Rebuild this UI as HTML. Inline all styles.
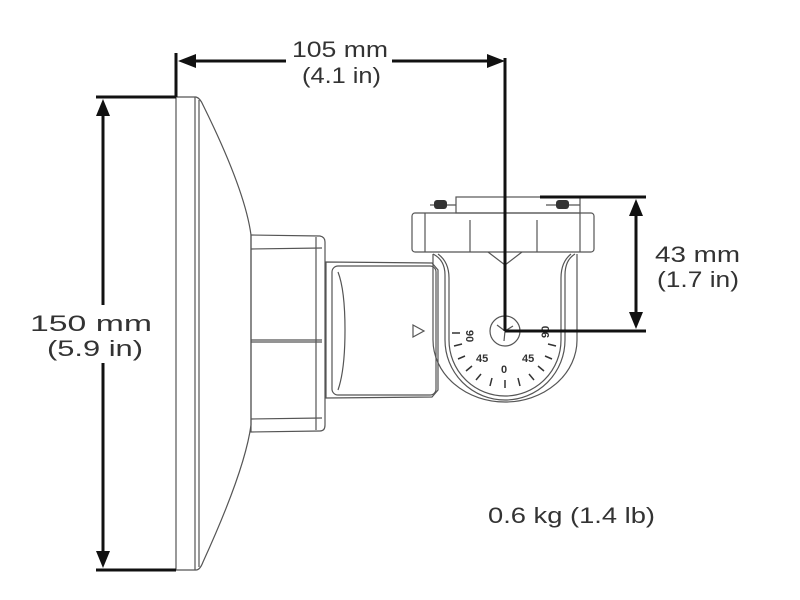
<!DOCTYPE html><html><head><style>body{margin:0;background:#fff}svg{display:block}text{font-family:"Liberation Sans",sans-serif;font-size:22px;fill:#333}</style></head><body>
<svg width="800" height="600" viewBox="0 0 800 600">
<g fill="none" stroke="#555" stroke-width="1.2">
<path d="M176 97 L196 97 Q200 98 203 105 Q245 190 251 235 L251 425 Q245 470 203 562 Q200 570 196 570 L176 570 Z"/>
<line x1="195" y1="97" x2="195" y2="570"/><line x1="199" y1="100" x2="199" y2="567"/>
<path d="M251 235 L320 236 Q325 237 325 242 L325 425 Q325 431 320 431 L251 432 Z"/>
<line x1="251" y1="249" x2="322" y2="248"/><line x1="251" y1="340" x2="322" y2="340"/><line x1="251" y1="342" x2="322" y2="342"/><line x1="251" y1="419" x2="322" y2="418"/>
<line x1="316" y1="237" x2="316" y2="430"/>
<path d="M326 262 L432 263 L438 270 L438 390 L432 397 L326 398 Z"/>
<rect x="332" y="266" width="104" height="129" rx="6"/>
<path d="M338 272 Q345 290 345 330 Q345 370 338 390"/>
<path d="M413 325 L424 331 L413 337 Z"/>
<rect x="412" y="213" width="182" height="39" rx="3"/>
<line x1="425" y1="213" x2="425" y2="252"/><line x1="580" y1="213" x2="580" y2="252"/>
<line x1="470" y1="220" x2="470" y2="252"/><line x1="537" y1="220" x2="537" y2="252"/>
<rect x="456" y="197" width="124" height="16"/><line x1="430" y1="205" x2="456" y2="205"/><line x1="546" y1="205" x2="580" y2="205"/>
<path d="M433 254 Q445 260 445 275 L445 340 A60 60 0 0 0 565 340 L565 275 Q565 260 575 254"/>
<path d="M438 254 Q449 262 449 278 L449 340 A56 56 0 0 0 561 340 L561 278 Q561 262 571 254"/>
<path d="M433 254 L433 340 A72 62 0 0 0 577 340 L577 254"/>
<path d="M488 252 L505 265 L522 252"/>
<circle cx="505" cy="331" r="15"/>
<path d="M497 325 L505 331 L513 326 M505 331 L504 341"/>
<g stroke="#333" stroke-width="1.5">
<line x1="452" y1="333" x2="460" y2="333"/><line x1="454" y1="346" x2="462" y2="344"/><line x1="458" y1="359" x2="465" y2="356"/><line x1="466" y1="371" x2="472" y2="366"/><line x1="476" y1="380" x2="481" y2="374"/><line x1="490" y1="386" x2="492" y2="378"/><line x1="505" y1="388" x2="505" y2="380"/><line x1="520" y1="386" x2="518" y2="378"/><line x1="534" y1="380" x2="529" y2="374"/><line x1="544" y1="371" x2="538" y2="366"/><line x1="552" y1="359" x2="545" y2="356"/><line x1="556" y1="346" x2="548" y2="344"/>
</g>
</g>
<rect x="434" y="200" width="13" height="9" rx="3" fill="#333"/><rect x="556" y="200" width="13" height="9" rx="3" fill="#333"/>
<g><text x="466" y="338" transform="rotate(90 470 334)" style="font-size:11px;font-weight:bold">90</text><text x="541" y="338" transform="rotate(-90 545 334)" style="font-size:11px;font-weight:bold">90</text><text x="476" y="362" style="font-size:11px;font-weight:bold">45</text><text x="522" y="362" style="font-size:11px;font-weight:bold">45</text><text x="501" y="373" style="font-size:11px;font-weight:bold">0</text></g>
<g stroke="#111" stroke-width="3" fill="none">
<line x1="176" y1="53" x2="176" y2="97"/><line x1="96" y1="97" x2="176" y2="97"/>
<line x1="96" y1="570" x2="176" y2="570"/>
<line x1="103" y1="110" x2="103" y2="557"/>
<line x1="190" y1="61" x2="286" y2="61"/><line x1="392" y1="61" x2="495" y2="61"/>
<line x1="505" y1="58" x2="505" y2="331"/><line x1="505" y1="331" x2="646" y2="331"/>
<line x1="540" y1="197" x2="646" y2="197"/><line x1="636" y1="210" x2="636" y2="318"/>
</g>
<g fill="#111">
<path d="M178 61 L196 54 L196 68 Z"/><path d="M505 61 L487 54 L487 68 Z"/>
<path d="M103 99 L96 116 L110 116 Z"/><path d="M103 568 L96 551 L110 551 Z"/>
<path d="M636 199 L629 216 L643 216 Z"/><path d="M636 329 L629 312 L643 312 Z"/>
</g>
<rect x="26" y="305" width="130" height="58" fill="#fff"/>
<text x="292" y="57" textLength="96" lengthAdjust="spacingAndGlyphs">105 mm</text><text x="302" y="83" textLength="79" lengthAdjust="spacingAndGlyphs">(4.1 in)</text>
<text x="30" y="331" textLength="122" lengthAdjust="spacingAndGlyphs">150 mm</text><text x="47" y="356" textLength="96" lengthAdjust="spacingAndGlyphs">(5.9 in)</text>
<text x="655" y="262" textLength="85" lengthAdjust="spacingAndGlyphs">43 mm</text><text x="657" y="287" textLength="82" lengthAdjust="spacingAndGlyphs">(1.7 in)</text>
<text x="488" y="523" textLength="167" lengthAdjust="spacingAndGlyphs">0.6 kg (1.4 lb)</text>
</svg></body></html>
